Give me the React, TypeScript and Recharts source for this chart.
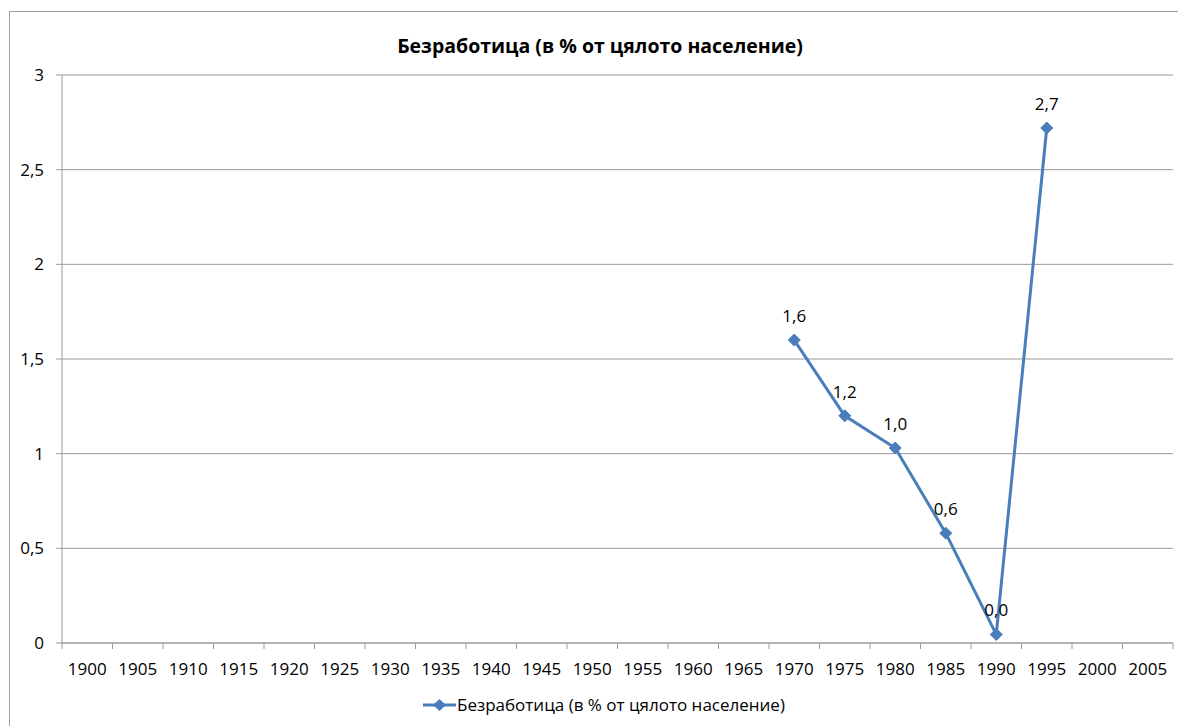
import React from "react";
import { LineChart, Line, XAxis, YAxis, CartesianGrid, LabelList } from "recharts";

const title = "Безработица (в % от цялото население)";
const seriesName = "Безработица (в % от цялото население)";
const years = [
  "1900", "1905", "1910", "1915", "1920", "1925", "1930", "1935", "1940", "1945", "1950",
  "1955", "1960", "1965", "1970", "1975", "1980", "1985", "1990", "1995", "2000", "2005",
];
const unemployment: (number | null)[] = [
  null, null, null, null, null, null, null, null, null, null, null,
  null, null, null, 1.6, 1.2, 1.03, 0.58, 0.045, 2.72, null, null,
];
const yTicks = [0, 0.5, 1, 1.5, 2, 2.5, 3];

const data = years.map((y, i) => ({ year: y, value: unemployment[i] }));

const W = 1178;
const H = 726;
const M = { top: 75, right: 5, left: 12, bottom: 53 };
const Y_W = 50;
const X_H = 30;
const BAND = (W - M.left - M.right - Y_W) / years.length;

const FONT = "'Open Sans', sans-serif";
const BLUE = "#4a7ebb";
const GRID = "#9a9a9a";
const FS = 17;

const fmt = (v: number) => (Number.isInteger(v) ? String(v) : v.toFixed(1).replace(".", ","));

const XTick = (props: any) => {
  const { x, y, payload, index } = props;
  const axisY = y - 8;
  return (
    <g>
      <line x1={x - BAND / 2} x2={x - BAND / 2} y1={axisY} y2={axisY + 6} stroke={GRID} />
      {index === years.length - 1 && (
        <line x1={x + BAND / 2} x2={x + BAND / 2} y1={axisY} y2={axisY + 6} stroke={GRID} />
      )}
      <text x={x} y={axisY + 32} textAnchor="middle" fill="#000" fontSize={FS} fontFamily={FONT}>
        {payload.value}
      </text>
    </g>
  );
};

const Diamond = (props: any) => {
  const { cx, cy, value } = props;
  if (value == null || cx == null || cy == null) return <g />;
  const r = 6;
  return (
    <polygon
      points={`${cx},${cy - r} ${cx + r},${cy} ${cx},${cy + r} ${cx - r},${cy}`}
      fill={BLUE}
      stroke={BLUE}
    />
  );
};

export default function App() {
  return (
    <div style={{ position: "absolute", left: 0, top: 0, width: W, height: H, background: "#fff", overflow: "hidden" }}>
      <div
        style={{
          position: "absolute",
          left: 9,
          top: 11,
          width: W,
          height: H,
          borderLeft: "1px solid #a0a0a0",
          borderTop: "1px solid #a0a0a0",
        }}
      />
      <div
        style={{
          position: "absolute",
          left: 0,
          top: 32,
          width: 1200,
          textAlign: "center",
          fontFamily: FONT,
          fontWeight: 700,
          fontSize: 19.5,
          color: "#000",
        }}
      >
        {title}
      </div>
      <div style={{ position: "absolute", left: 0, top: 0 }}>
        <LineChart width={W} height={H} data={data} margin={M}>
          <CartesianGrid horizontal vertical={false} stroke={GRID} />
          <XAxis
            dataKey="year"
            type="category"
            scale="band"
            interval={0}
            height={X_H}
            axisLine={{ stroke: GRID }}
            tickLine={false}
            tickSize={6}
            tick={<XTick />}
          />
          <YAxis
            width={Y_W}
            domain={[0, 3]}
            ticks={yTicks}
            tickFormatter={fmt}
            axisLine={{ stroke: GRID }}
            tickLine={{ stroke: GRID }}
            tickSize={6}
            tickMargin={12}
            tick={{ fill: "#000", fontSize: FS, fontFamily: FONT }}
          />
          <Line
            dataKey="value"
            stroke={BLUE}
            strokeWidth={3}
            dot={<Diamond />}
            activeDot={false}
            isAnimationActive={false}
          >
            <LabelList
              dataKey="value"
              position="top"
              offset={18}
              formatter={(v: any) => (v == null ? "" : Number(v).toFixed(1).replace(".", ","))}
              style={{ fill: "#000", fontSize: FS, fontFamily: FONT }}
            />
          </Line>
        </LineChart>
      </div>
      <div
        style={{
          position: "absolute",
          left: 423,
          top: 693,
          display: "flex",
          alignItems: "center",
          fontFamily: FONT,
          fontSize: FS,
          color: "#000",
          whiteSpace: "nowrap",
        }}
      >
        <svg width={33} height={14} style={{ marginRight: 1 }}>
          <line x1={0} x2={33} y1={7} y2={7} stroke={BLUE} strokeWidth={3} />
          <polygon points="16.5,1 23,7 16.5,13 10,7" fill={BLUE} />
        </svg>
        <span>{seriesName}</span>
      </div>
    </div>
  );
}
